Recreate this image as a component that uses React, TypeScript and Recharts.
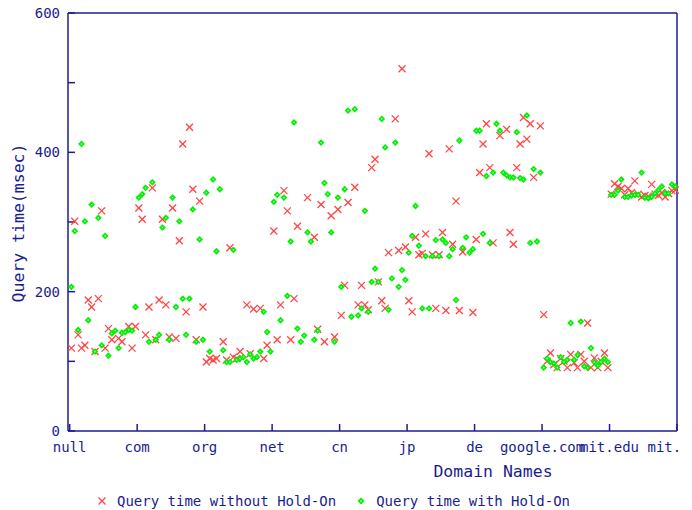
import React from "react";
import { ScatterChart, Scatter, XAxis, YAxis, ReferenceLine, Label } from "recharts";

// domain groups, 20 queries each; last label is the closing tick
const domains = ["null", "com", "org", "net", "cn", "jp", "de", "google.com", "mit.edu", "mit.edu"];
const yTicks = [0, 100, 200, 300, 400, 500, 600];

// query time (msec) without Hold-On, 20 per domain
const withoutHoldOn: (number | null)[] = [
  119, 301, 138, 119, 123, 188, 178, 114, 190, 316, 119, 147, 131, null, 133, 128, null, 150, 119, 150, // null
  320, 304, 138, 178, 349, 131, 188, 304, 181, 135, 320, 133, 273, 412, 171, 436, 347, 131, 330, 178, // com
  99, 104, 102, 104, null, 128, 102, 263, 106, 104, 114, null, 181, 111, 175, null, 176, 104, 123, null, // org
  287, 131, 181, 345, 316, 131, 190, 294, null, null, 335, null, 278, 146, 325, 128, null, 309, 135, 318, // net
  166, 209, 328, null, 350, 181, 209, 181, 174, 378, 390, 214, 187, 176, 256, null, 448, 259, 520, 264, // cn
  187, 171, 278, 253, 255, 283, 398, 253, 176, 253, 285, 173, 405, 268, 330, 173, 257, null, null, 170, // jp
  275, 371, 412, 441, 378, 270, null, 424, null, 433, 285, 268, 378, 412, 450, 419, 441, 364, null, 438, // de
  167, 100, 112, 95, 91, 104, 100, 91, 110, 98, 91, 110, 100, 155, 91, 105, 91, 100, 112, 91, // google.com
  340, 355, 351, 348, 339, 348, 342, 359, 340, 336, 338, 337, 354, 340, 338, 342, 336, 341, 345, 346, // mit.edu
];

// query time (msec) with Hold-On
const withHoldOn: (number | null)[] = [
  207, 287, 145, 412, 301, 159, 325, 114, 306, 123, 280, 108, 140, 144, 119, 141, 142, 145, 144, 178,
  335, 340, 349, 128, 357, 131, 138, 292, 306, 131, 335, 178, 301, 190, 138, 190, 318, 128, 275, 131,
  342, 114, 361, 258, 347, 116, 99, 99, 260, 102, 104, 106, 99, 110, 104, 106, 114, 171, 142, 114,
  329, 339, 159, 335, 194, 272, 443, 147, 128, 137, 285, 272, 131, 144, 414, 356, 340, 285, 128, 335,
  207, 347, 460, 164, 462, 166, 176, 316, 171, 214, 233, 214, 448, 407, 174, 219, 414, 207, 231, 217,
  256, 280, 323, 266, 176, 251, 176, 251, 274, 251, 275, 270, 251, 261, 188, 417, 263, 278, 256, 261,
  431, 431, 283, 366, 270, 371, 441, 431, 371, 367, 364, 364, 429, 363, 361, 453, 270, 376, 272, 371,
  91, 104, 99, 97, 91, 106, 99, 102, 155, 102, 109, 157, 93, 91, 119, 99, 94, 99, 104, 99,
  339, 339, 345, 361, 336, 336, 338, 339, 339, 371, 335, 334, 336, 341, 346, 351, 341, 341, 354, 351,
];

const NAVY = "#1c1c90";
const RED = "#ff4545";
const GREEN = "#00f000";
const FONT = "'DejaVu Sans Mono', monospace";

const toPoints = (vals: (number | null)[]) =>
  vals.map((v, i) => ({ x: i + 1, y: v })).filter((p) => p.y !== null);

const xTicks = domains.map((_, i) => 0.5 + i * 20);

const Cross = (p: any) => (
  <g stroke={RED} strokeWidth={1.3}>
    <line x1={p.cx - 3.5} y1={p.cy - 3.5} x2={p.cx + 3.5} y2={p.cy + 3.5} />
    <line x1={p.cx - 3.5} y1={p.cy + 3.5} x2={p.cx + 3.5} y2={p.cy - 3.5} />
  </g>
);

const Diamond = (p: any) => (
  <g>
    <polygon
      points={`${p.cx},${p.cy - 3.4} ${p.cx + 3.4},${p.cy} ${p.cx},${p.cy + 3.4} ${p.cx - 3.4},${p.cy}`}
      fill={GREEN}
    />
    <rect x={p.cx - 0.7} y={p.cy - 0.7} width={1.4} height={1.4} fill="#c0ffc0" />
  </g>
);

const tickStyle = { fill: NAVY, fontSize: 14, fontFamily: FONT };

export default function App() {
  return (
    <div style={{ position: "absolute", left: 0, top: 0, width: 692, height: 510, background: "#fff" }}>
      <div style={{ width: 681, height: 510, overflow: "hidden" }}>
        <ScatterChart width={692} height={510} margin={{ top: 13, right: 15, bottom: 49, left: 0 }}>
          <XAxis
            type="number"
            dataKey="x"
            domain={[0, 180.5]}
            ticks={xTicks}
            interval={0}
            tickFormatter={(v: number) => domains[Math.round((v - 0.5) / 20)]}
            height={30}
            tickSize={-7}
            tickMargin={18}
            axisLine={{ stroke: NAVY, strokeWidth: 1.5 }}
            tickLine={{ stroke: NAVY, strokeWidth: 1.5 }}
            tick={tickStyle}
            label={
              <Label
                content={() => (
                  <text x={493} y={477} textAnchor="middle" fill={NAVY} fontSize={16.5} fontFamily={FONT}>
                    Domain Names
                  </text>
                )}
              />
            }
          />
          <YAxis
            type="number"
            dataKey="y"
            domain={[0, 600]}
            ticks={yTicks}
            interval={0}
            tickFormatter={(v: number) => (v % 200 === 0 ? String(v) : "")}
            width={68}
            tickSize={-7}
            tickMargin={15}
            axisLine={{ stroke: NAVY, strokeWidth: 1.5 }}
            tickLine={{ stroke: NAVY, strokeWidth: 1.5 }}
            tick={tickStyle}
            label={
              <Label
                content={() => (
                  <text
                    x={24}
                    y={223}
                    transform="rotate(-90 24 223)"
                    textAnchor="middle"
                    fill={NAVY}
                    fontSize={16.5}
                    fontFamily={FONT}
                  >
                    Query time(msec)
                  </text>
                )}
              />
            }
          />
          <ReferenceLine y={600} stroke={NAVY} strokeWidth={1.5} />
          <ReferenceLine x={180.5} stroke={NAVY} strokeWidth={1.5} />
          <Scatter
            name="Query time without Hold-On"
            data={toPoints(withoutHoldOn)}
            shape={Cross}
            isAnimationActive={false}
          />
          <Scatter
            name="Query time with Hold-On"
            data={toPoints(withHoldOn)}
            shape={Diamond}
            isAnimationActive={false}
          />
        </ScatterChart>
      </div>
      <div
        style={{
          position: "absolute",
          top: 492,
          left: 96,
          display: "flex",
          alignItems: "center",
          fontFamily: FONT,
          fontSize: 14,
          color: NAVY,
          whiteSpace: "pre",
          lineHeight: "18px",
        }}
      >
        <svg width={12} height={12} style={{ marginRight: 9 }}>
          <Cross cx={6} cy={6} />
        </svg>
        <span>Query time without Hold-On</span>
        <svg width={12} height={12} style={{ marginLeft: 19, marginRight: 9 }}>
          <Diamond cx={6} cy={6} />
        </svg>
        <span>Query time with Hold-On</span>
      </div>
    </div>
  );
}
